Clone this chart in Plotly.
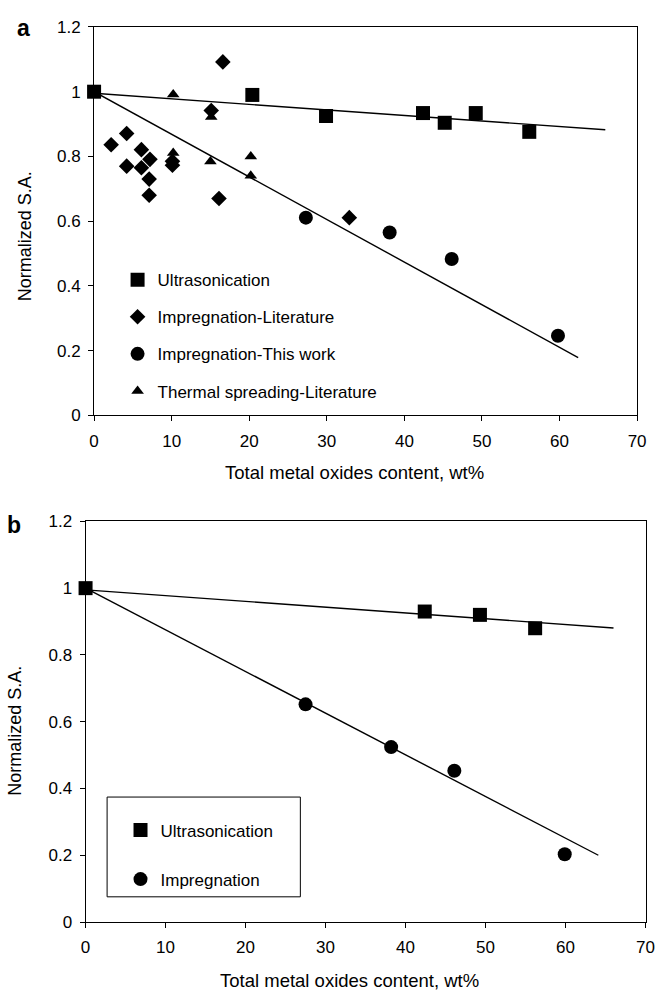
import numpy as np
import plotly.graph_objects as go

# ---------------- Panel a data ----------------
a_ultra_x = [0, 20.4, 29.9, 42.4, 45.2, 49.2, 56.1]
a_ultra_y = [1.0, 0.99, 0.925, 0.934, 0.904, 0.934, 0.876]

a_implit_x = [2.2, 4.2, 4.2, 6.1, 6.1, 7.2, 7.1, 7.1, 10.1, 10.1, 15.1, 16.1, 16.6, 32.9]
a_implit_y = [0.836, 0.871, 0.77, 0.821, 0.765, 0.791, 0.73, 0.68, 0.773, 0.785, 0.942, 0.67, 1.092, 0.611]

a_impthis_x = [27.3, 38.1, 46.1, 59.8]
a_impthis_y = [0.611, 0.565, 0.483, 0.246]

a_thermal_x = [10.2, 10.2, 15.1, 15.0, 20.2, 20.2]
a_thermal_y = [0.991, 0.811, 0.922, 0.784, 0.80, 0.74]

# trend lines (intercept, slope, x-end)
a_fit_ultra = (0.995, -0.00171, 65.9)
a_fit_imp = (1.0, -0.01316, 62.4)

# ---------------- Panel b data ----------------
b_ultra_x = [0, 42.4, 49.3, 56.2]
b_ultra_y = [1.0, 0.93, 0.92, 0.88]

b_imp_x = [27.5, 38.2, 46.1, 59.9]
b_imp_y = [0.652, 0.524, 0.453, 0.203]

b_fit_ultra = (0.995, -0.00173, 66.0)
b_fit_imp = (1.0, -0.01248, 64.1)

x_ticks = [0, 10, 20, 30, 40, 50, 60, 70]
y_ticks = [0, 0.2, 0.4, 0.6, 0.8, 1, 1.2]

W, H = 665, 1001
FONT = "Liberation Sans, Arial, sans-serif"


def px(x):
    return x / W


def py(y):
    return 1 - y / H


def fit_line(fit):
    b0, b1, xend = fit
    xs = np.array([0.0, xend])
    return xs, b0 + b1 * xs


fig = go.Figure()


def add_pts(x, y, name, symbol, size, xa, ya, legend, group):
    fig.add_trace(go.Scatter(
        x=x, y=y, mode="markers", name=name,
        marker=dict(symbol=symbol, size=size, color="black", line=dict(width=0)),
        xaxis=xa, yaxis=ya, legend=legend, legendgroup=group, cliponaxis=False))


def add_line(fit, xa, ya):
    xs, ys = fit_line(fit)
    fig.add_trace(go.Scatter(
        x=xs, y=ys, mode="lines", line=dict(color="black", width=1.4),
        xaxis=xa, yaxis=ya, showlegend=False, hoverinfo="skip", cliponaxis=False))


# panel a
add_line(a_fit_ultra, "x", "y")
add_line(a_fit_imp, "x", "y")
add_pts(a_ultra_x, a_ultra_y, "Ultrasonication", "square", 14, "x", "y", "legend", "a1")
add_pts(a_implit_x, a_implit_y, "Impregnation-Literature", "diamond", 12, "x", "y", "legend", "a2")
add_pts(a_impthis_x, a_impthis_y, "Impregnation-This work", "circle", 14, "x", "y", "legend", "a3")
add_pts(a_thermal_x, a_thermal_y, "Thermal spreading-Literature", "triangle-up", 11, "x", "y", "legend", "a4")

# panel b
add_line(b_fit_ultra, "x2", "y2")
add_line(b_fit_imp, "x2", "y2")
add_pts(b_ultra_x, b_ultra_y, "Ultrasonication", "square", 14, "x2", "y2", "legend2", "b1")
add_pts(b_imp_x, b_imp_y, "Impregnation", "circle", 14, "x2", "y2", "legend2", "b2")

axis_common = dict(
    showgrid=False, zeroline=False, showline=True, linecolor="black", linewidth=1,
    mirror=True, ticks="outside", ticklen=5, tickwidth=1, tickcolor="black",
    tickfont=dict(family=FONT, size=17, color="black"),
)

fig.update_layout(
    width=W, height=H,
    margin=dict(l=0, r=0, t=0, b=0),
    paper_bgcolor="white", plot_bgcolor="white",
    font=dict(family=FONT, color="black"),
    xaxis=dict(domain=[px(91), px(645.7)], range=[0, 70], tickvals=x_ticks,
               anchor="y", ticklabelstandoff=5, **axis_common),
    yaxis=dict(domain=[py(414.3), py(18.3)], range=[0, 1.2], tickvals=y_ticks,
               anchor="x", ticklabelstandoff=4, **axis_common),
    xaxis2=dict(domain=[px(82.3), px(654.3)], range=[0, 70], tickvals=x_ticks,
                anchor="y2", ticklabelstandoff=5, **axis_common),
    yaxis2=dict(domain=[py(930.7), py(522.3)], range=[0, 1.2], tickvals=y_ticks,
                anchor="x2", ticklabelstandoff=4, **axis_common),
    legend=dict(x=px(115), y=py(258), xanchor="left", yanchor="top",
                bgcolor="rgba(0,0,0,0)", borderwidth=0, tracegroupgap=12,
                font=dict(family=FONT, size=17, color="black")),
    legend2=dict(x=px(118), y=py(819), xanchor="left", yanchor="top",
                 bgcolor="rgba(0,0,0,0)", borderwidth=0, tracegroupgap=24,
                 font=dict(family=FONT, size=17, color="black")),
    shapes=[dict(type="rect", xref="paper", yref="paper",
                 x0=px(104.3), x1=px(301.7), y0=py(905), y1=py(803.3),
                 line=dict(color="black", width=1), fillcolor="rgba(0,0,0,0)")],
)

ann = []


def add_text(text, x, y, size, angle=0, bold=False):
    ann.append(dict(text=f"<b>{text}</b>" if bold else text, x=px(x), y=py(y),
                    xref="paper", yref="paper", xanchor="center", yanchor="middle",
                    showarrow=False, textangle=angle,
                    font=dict(family=FONT, size=size, color="black")))


add_text("Normalized S.A.", 20, 232, 18, angle=-90)
add_text("Normalized S.A.", 10, 736, 18, angle=-90)
add_text("Total metal oxides content, wt%", 356.7, 472, 18.5)
add_text("Total metal oxides content, wt%", 352, 990, 18.5)
add_text("a", 18.5, 19, 23, bold=True)
add_text("b", 9, 526, 23, bold=True)

fig.update_layout(annotations=ann)

fig.write_html("out.html")
